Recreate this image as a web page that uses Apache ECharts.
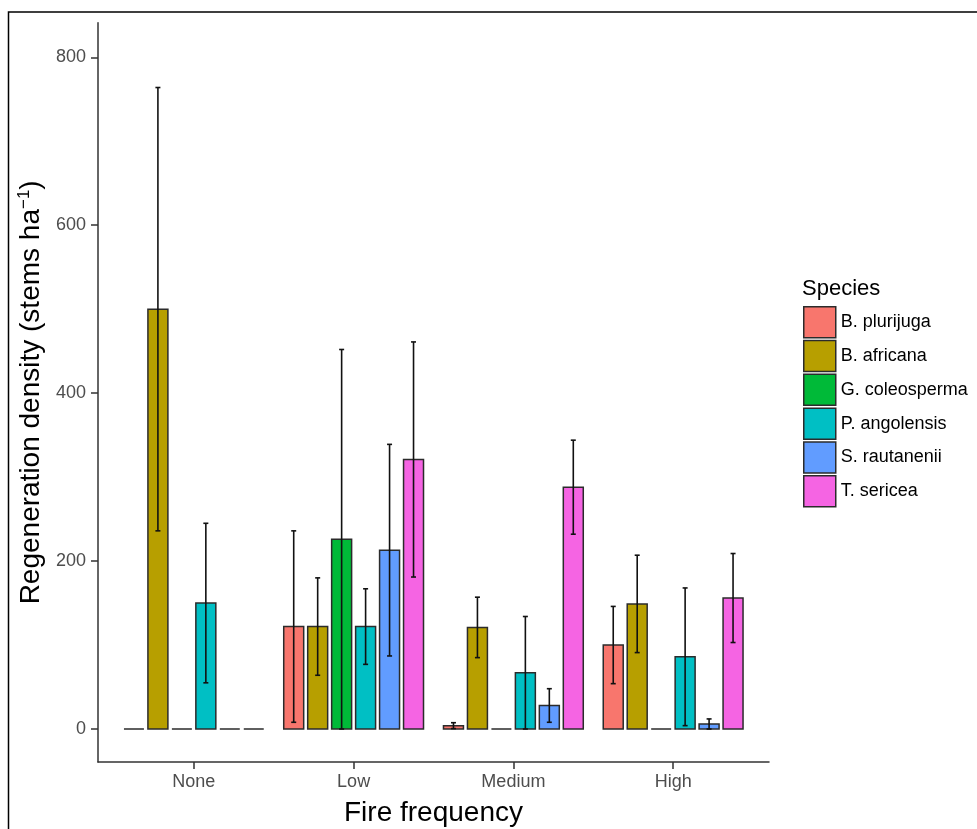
<!DOCTYPE html>
<html>
<head>
<meta charset="utf-8">
<script src="https://cdn.jsdelivr.net/npm/echarts@6/dist/echarts.min.js"></script>
<style>
  html, body { margin: 0; padding: 0; background: #fff; }
  #chart { width: 977px; height: 829px; }
</style>
</head>
<body>
<div id="chart"></div>
<script>
// Fire-frequency classes on the x axis
const groups = ['None', 'Low', 'Medium', 'High'];
// Species (legend order)
const species = ['B. plurijuga', 'B. africana', 'G. coleosperma', 'P. angolensis', 'S. rautanenii', 'T. sericea'];
const speciesColors = ['#F8766D', '#B79F00', '#00BA38', '#00BFC4', '#619CFF', '#F564E3'];

// Mean regeneration density (stems/ha), one value per fire class
const bPlurijuga    = [0, 122, 4, 100];
const bAfricana     = [500, 122, 121, 149];
const gColeosperma  = [0, 226, 0, 0];
const pAngolensis   = [150, 122, 67, 86];
const sRautanenii   = [0, 213, 28, 6];
const tSericea      = [0, 321, 288, 156];

// Standard errors for the whiskers
const bPlurijugaSE   = [0, 114, 3.5, 46];
const bAfricanaSE    = [264, 58, 36, 58];
const gColeospermaSE = [0, 226, 0, 0];
const pAngolensisSE  = [95, 45, 67, 82];
const sRautaneniiSE  = [0, 126, 20, 6];
const tSericeaSE     = [0, 140, 56, 53];

const yTicks = [0, 200, 400, 600, 800];

const means = [bPlurijuga, bAfricana, gColeosperma, pAngolensis, sRautanenii, tSericea];
const errors = [bPlurijugaSE, bAfricanaSE, gColeospermaSE, pAngolensisSE, sRautaneniiSE, tSericeaSE];

const FONT = '"Liberation Sans", Arial, sans-serif';
const DODGE = 0.15;     // spacing between dodged bars (axis units)
const BAR_W = 0.125;    // bar width (axis units)
const CAP = 2.5;        // half-width of whisker caps (px)
const OUTLINE = '#2b2b2b';

const chart = echarts.init(document.getElementById('chart'), null, { renderer: 'canvas' });

function makeSeries(si) {
  const offset = (si - (species.length - 1) / 2) * DODGE;
  return {
    name: species[si],
    type: 'custom',
    itemStyle: { color: speciesColors[si], borderColor: OUTLINE, borderWidth: 1.5 },
    data: groups.map((g, gi) => [gi, means[si][gi], errors[si][gi]]),
    renderItem: function (params, api) {
      const gi = api.value(0), m = api.value(1), se = api.value(2);
      const xc = gi + offset;
      const tl = api.coord([xc - BAR_W / 2, m]);
      const br = api.coord([xc + BAR_W / 2, 0]);
      const children = [{
        type: 'rect',
        shape: { x: tl[0], y: tl[1], width: br[0] - tl[0], height: br[1] - tl[1] },
        style: { fill: speciesColors[si], stroke: OUTLINE, lineWidth: 1.5 }
      }];
      if (se > 0) {
        const top = api.coord([xc, m + se]);
        const bot = api.coord([xc, m - se]);
        const ls = { stroke: '#111', lineWidth: 1.6 };
        children.push(
          { type: 'line', shape: { x1: top[0], y1: top[1], x2: bot[0], y2: bot[1] }, style: ls },
          { type: 'line', shape: { x1: top[0] - CAP, y1: top[1], x2: top[0] + CAP, y2: top[1] }, style: ls },
          { type: 'line', shape: { x1: bot[0] - CAP, y1: bot[1], x2: bot[0] + CAP, y2: bot[1] }, style: ls }
        );
      }
      return { type: 'group', children: children };
    }
  };
}

const option = {
  animation: false,
  backgroundColor: '#fff',
  grid: { left: 98, top: 22.7, width: 671, height: 739.3, containLabel: false, outerBoundsMode: 'none' },
  legend: {
    data: species,
    orient: 'vertical',
    left: 803,
    top: 306,
    itemWidth: 32,
    itemHeight: 31,
    itemGap: 1.3,
    padding: 0,
    selectedMode: false,
    icon: 'rect',
    itemStyle: { borderColor: OUTLINE, borderWidth: 1.5 },
    textStyle: { fontFamily: FONT, fontSize: 18, color: '#000' }
  },
  graphic: [
    {
      type: 'text', left: 802, top: 278,
      style: { text: 'Species', font: '22px ' + FONT, fill: '#000' }
    },
    {
      type: 'rect', silent: true,
      shape: { x: 8.5, y: 12, width: 1100, height: 1000 },
      style: { fill: 'none', stroke: '#000', lineWidth: 1.5 }
    }
  ],
  xAxis: {
    type: 'value',
    min: -0.6,
    max: 3.6,
    name: 'Fire frequency',
    nameLocation: 'middle',
    nameGap: 37,
    nameTextStyle: { fontFamily: FONT, fontSize: 28, color: '#000' },
    splitLine: { show: false },
    axisLine: { show: true, onZero: false, lineStyle: { color: '#333', width: 1.5 } },
    axisTick: { show: true, length: 7, customValues: [0, 1, 2, 3], lineStyle: { color: '#333', width: 1.5 } },
    axisLabel: {
      customValues: [0, 1, 2, 3],
      formatter: v => groups[Math.round(v)],
      margin: 11,
      fontFamily: FONT, fontSize: 18, color: '#4D4D4D'
    }
  },
  yAxis: {
    type: 'value',
    min: -39.3,
    max: 841.2,
    name: 'Regeneration density (stems ha{sup|\u22121})',
    nameLocation: 'middle',
    nameGap: 50,
    nameRotate: 90,
    nameTextStyle: {
      fontFamily: FONT, fontSize: 28, color: '#000',
      rich: { sup: { fontFamily: FONT, fontSize: 17, color: '#000', padding: [0, 0, 14, 0] } }
    },
    splitLine: { show: false },
    axisLine: { show: true, onZero: false, lineStyle: { color: '#333', width: 1.5 } },
    axisTick: { show: true, length: 7, customValues: yTicks, lineStyle: { color: '#333', width: 1.5 } },
    axisLabel: {
      customValues: yTicks,
      margin: 12,
      fontFamily: FONT, fontSize: 18, color: '#4D4D4D'
    }
  },
  series: species.map((s, i) => makeSeries(i))
};

chart.setOption(option);
</script>
</body>
</html>
